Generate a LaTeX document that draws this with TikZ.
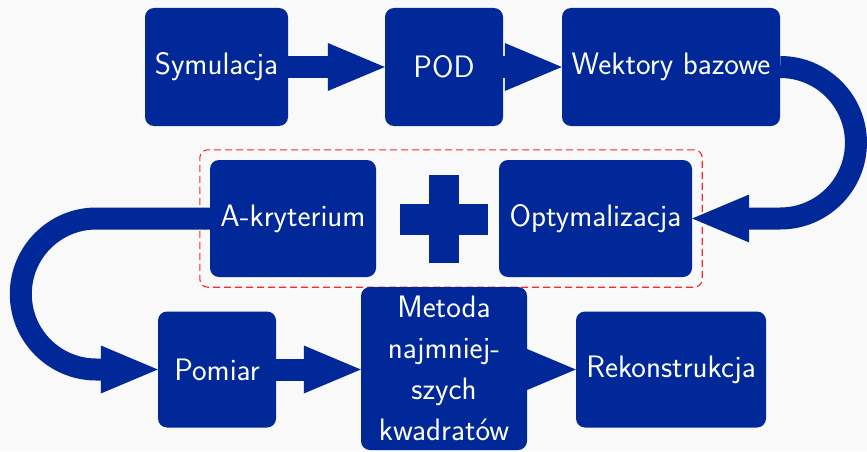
\documentclass[tikz,border=0pt]{standalone}
\usetikzlibrary{arrows.meta,fit,calc}
\definecolor{mblue}{RGB}{0,40,152}
\definecolor{bgc}{RGB}{249,249,249}
\definecolor{dred}{RGB}{250,40,40}
\pgfdeclarelayer{back}
\pgfsetlayers{back,main}
\begin{document}
\begin{tikzpicture}[x=1pt,y=1pt,
  box/.style={fill=mblue, text=white, rounded corners=9pt, inner sep=0pt, align=center,
    font=\sffamily\fontsize{31}{41}\selectfont},
  flow/.style={draw=mblue, line width=22pt,
    -{Triangle[length=57pt 0, width=48pt 0, line width=0pt]}},
  group/.style={draw=dred, line width=1.1pt, dash pattern=on 7pt off 4pt, rounded corners=8pt, inner sep=10pt}
]
\begin{pgfonlayer}{back}
\fill[bgc] (0,0) rectangle (867,451);
\end{pgfonlayer}
\useasboundingbox (0,0) rectangle (867,451);

% top row
\node[box, minimum width=143pt, minimum height=118pt] (sym) at (216.5,384) {Symulacja};
\node[box, minimum width=118pt, minimum height=118pt] (pod) at (444,384) {POD};
\node[box, minimum width=218pt, minimum height=118pt] (wek) at (671,384) {Wektory bazowe};
% middle row
\node[box, minimum width=166pt, minimum height=117pt] (akr) at (293,232.5) {A-kryterium};
\node[box, minimum width=193pt, minimum height=117pt] (opt) at (595.5,232.5) {Optymalizacja};
\coordinate (plus) at (444,232);
\fill[mblue] ($(plus)+(-44,-15.5)$) rectangle ($(plus)+(44,15.5)$);
\fill[mblue] ($(plus)+(-15,-44)$) rectangle ($(plus)+(15,44)$);
% bottom row
\node[box, minimum width=118pt, minimum height=116pt] (pom) at (217,81.5) {Pomiar};
\node[box, minimum width=166pt, minimum height=163pt] (met) at (444,82.5) {Metoda\\najmniej-\\szych\\kwadratów};
\node[box, minimum width=190pt, minimum height=116pt] (rek) at (671,81.5) {Rekonstrukcja};

\begin{pgfonlayer}{back}
\node[group, fit=(akr)(opt)] (grp) {};
\draw[flow] (sym.east) -- (pod.west);
\draw[flow] (pod.east) -- (wek.west);
\draw[flow] (wek.east) arc[start angle=90, end angle=-90, radius=75.75pt] -- (opt.east);
\draw[flow] (akr.west) -- ++(-113.5,0) arc[start angle=90, end angle=270, radius=75.5pt] -- (pom.west);
\draw[flow] (pom.east) -- (pom.east -| met.west);
\draw[flow] (rek.west -| met.east) -- (rek.west);
\end{pgfonlayer}
\end{tikzpicture}
\end{document}
